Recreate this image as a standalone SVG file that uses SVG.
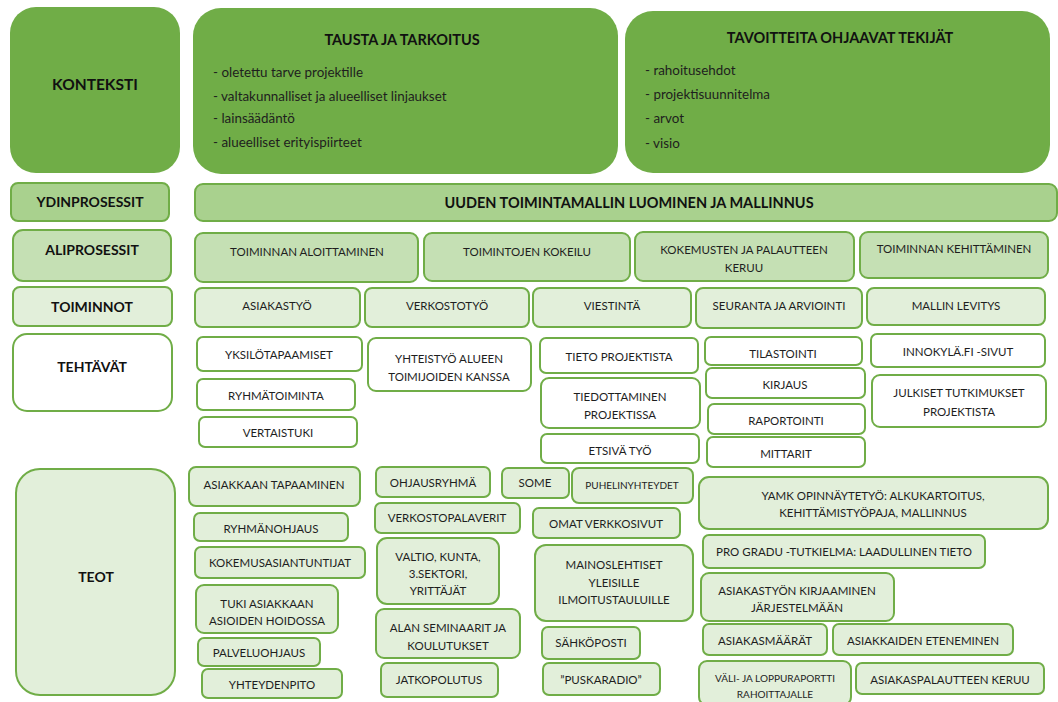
<svg xmlns="http://www.w3.org/2000/svg" width="1058" height="702" viewBox="0 0 1058 702">
  <style>
    rect { stroke: #70ad47; stroke-width: 2; }
    .dark { fill: #70ad47; stroke: none; }
    .mid { fill: #a9d18e; }
    .light { fill: #c5e0b4; }
    .pale { fill: #e2efda; }
    .white { fill: #ffffff; }
    text { font-family: Lato, "Liberation Sans", sans-serif; fill: #1e1e1e; }
    .t { font-size: 11.5px; text-anchor: middle; }
    .s { font-size: 10px; text-anchor: middle; }
    .h { font-size: 15.5px; font-weight: bold; text-anchor: middle; fill: #111; }
    .hb { font-size: 14px; font-weight: bold; text-anchor: middle; fill: #111; }
    .ht { font-size: 14.5px; font-weight: bold; text-anchor: middle; fill: #111; }
    .b { font-size: 13.4px; }
  </style>

  <!-- Context row -->
  <g id="konteksti">
    <rect class="dark" x="10" y="7" width="170" height="166" rx="26"/>
    <text class="h" x="95" y="90">KONTEKSTI</text>
  </g>
  <g id="tausta">
    <rect class="dark" x="193" y="8" width="425" height="166" rx="28"/>
    <text class="ht" x="402" y="45">TAUSTA JA TARKOITUS</text>
    <text class="b" x="213" y="77">- oletettu tarve projektille</text>
    <text class="b" x="213" y="101">- valtakunnalliset ja alueelliset linjaukset</text>
    <text class="b" x="213" y="123">- lainsäädäntö</text>
    <text class="b" x="213" y="147">- alueelliset erityispiirteet</text>
  </g>
  <g id="tavoitteet">
    <rect class="dark" x="625" y="11" width="425" height="162" rx="28"/>
    <text class="ht" x="840" y="43">TAVOITTEITA OHJAAVAT TEKIJÄT</text>
    <text class="b" x="645" y="75">- rahoitusehdot</text>
    <text class="b" x="645" y="99">- projektisuunnitelma</text>
    <text class="b" x="645" y="123">- arvot</text>
    <text class="b" x="645" y="148">- visio</text>
  </g>

  <!-- Core process row -->
  <g id="ydinprosessit">
    <rect class="mid" x="11" y="183" width="158" height="38" rx="7"/>
    <text class="hb" x="90" y="207">YDINPROSESSIT</text>
  </g>
  <g id="uuden-toimintamallin">
    <rect class="mid" x="195" y="184" width="862" height="37" rx="8"/>
    <text class="ht" x="629" y="208">UUDEN TOIMINTAMALLIN LUOMINEN JA MALLINNUS</text>
  </g>

  <!-- Sub-process row -->
  <g id="aliprosessit">
    <rect class="light" x="13" y="230" width="158" height="51" rx="10"/>
    <text class="hb" x="92" y="255">ALIPROSESSIT</text>
  </g>
  <g id="toiminnan-aloittaminen">
    <rect class="light" x="195" y="233" width="223" height="49" rx="8"/>
    <text class="t" x="307" y="256">TOIMINNAN ALOITTAMINEN</text>
  </g>
  <g id="toimintojen-kokeilu">
    <rect class="light" x="424" y="233" width="206" height="48" rx="8"/>
    <text class="t" x="527" y="256">TOIMINTOJEN KOKEILU</text>
  </g>
  <g id="kokemusten-keruu">
    <rect class="light" x="635" y="232" width="219" height="49" rx="8"/>
    <text class="t" x="744" y="254">KOKEMUSTEN JA PALAUTTEEN</text>
    <text class="t" x="744" y="272">KERUU</text>
  </g>
  <g id="toiminnan-kehittaminen">
    <rect class="light" x="860" y="232" width="188" height="46" rx="8"/>
    <text class="t" x="954" y="253">TOIMINNAN KEHITTÄMINEN</text>
  </g>

  <!-- Functions row -->
  <g id="toiminnot">
    <rect class="pale" x="13" y="287" width="159" height="39" rx="7"/>
    <text class="hb" x="92" y="312">TOIMINNOT</text>
  </g>
  <g id="asiakastyo">
    <rect class="pale" x="195" y="288" width="165" height="39" rx="7"/>
    <text class="t" x="277" y="310">ASIAKASTYÖ</text>
  </g>
  <g id="verkostotyo">
    <rect class="pale" x="365" y="288" width="164" height="39" rx="7"/>
    <text class="t" x="447" y="310">VERKOSTOTYÖ</text>
  </g>
  <g id="viestinta">
    <rect class="pale" x="533" y="288" width="158" height="39" rx="7"/>
    <text class="t" x="612" y="310">VIESTINTÄ</text>
  </g>
  <g id="seuranta">
    <rect class="pale" x="696" y="288" width="166" height="40" rx="7"/>
    <text class="t" x="779" y="310">SEURANTA JA ARVIOINTI</text>
  </g>
  <g id="mallin-levitys">
    <rect class="pale" x="867" y="288" width="178" height="37" rx="7"/>
    <text class="t" x="956" y="310">MALLIN LEVITYS</text>
  </g>

  <!-- Tasks -->
  <g id="tehtavat">
    <rect class="white" x="13" y="334" width="159" height="77" rx="14"/>
    <text class="hb" x="92" y="372">TEHTÄVÄT</text>
  </g>
  <g id="yksilotapaamiset">
    <rect class="white" x="197" y="337" width="165" height="34" rx="6"/>
    <text class="t" x="279" y="359">YKSILÖTAPAAMISET</text>
  </g>
  <g id="ryhmatoiminta">
    <rect class="white" x="197" y="379" width="158" height="31" rx="6"/>
    <text class="t" x="276" y="400">RYHMÄTOIMINTA</text>
  </g>
  <g id="vertaistuki">
    <rect class="white" x="199" y="417" width="158" height="30" rx="6"/>
    <text class="t" x="278" y="437">VERTAISTUKI</text>
  </g>
  <g id="yhteistyo">
    <rect class="white" x="368" y="338" width="163" height="53" rx="8"/>
    <text class="t" x="449" y="363">YHTEISTYÖ ALUEEN</text>
    <text class="t" x="449" y="381">TOIMIJOIDEN KANSSA</text>
  </g>
  <g id="tieto-projektista">
    <rect class="white" x="540" y="338" width="158" height="35" rx="6"/>
    <text class="t" x="619" y="361">TIETO PROJEKTISTA</text>
  </g>
  <g id="tiedottaminen">
    <rect class="white" x="541" y="378" width="159" height="50" rx="8"/>
    <text class="t" x="620" y="401">TIEDOTTAMINEN</text>
    <text class="t" x="620" y="419">PROJEKTISSA</text>
  </g>
  <g id="etsiva-tyo">
    <rect class="white" x="541" y="434" width="158" height="29" rx="6"/>
    <text class="t" x="620" y="455">ETSIVÄ TYÖ</text>
  </g>
  <g id="tilastointi">
    <rect class="white" x="705" y="337" width="157" height="28" rx="6"/>
    <text class="t" x="783" y="358">TILASTOINTI</text>
  </g>
  <g id="kirjaus">
    <rect class="white" x="706" y="368" width="159" height="30" rx="6"/>
    <text class="t" x="785" y="389">KIRJAUS</text>
  </g>
  <g id="raportointi">
    <rect class="white" x="708" y="404" width="157" height="30" rx="6"/>
    <text class="t" x="786" y="425">RAPORTOINTI</text>
  </g>
  <g id="mittarit">
    <rect class="white" x="707" y="437" width="158" height="30" rx="6"/>
    <text class="t" x="786" y="458">MITTARIT</text>
  </g>
  <g id="innokyla">
    <rect class="white" x="871" y="334" width="174" height="33" rx="6"/>
    <text class="t" x="958" y="356">INNOKYLÄ.FI -SIVUT</text>
  </g>
  <g id="julkiset-tutkimukset">
    <rect class="white" x="872" y="375" width="174" height="52" rx="8"/>
    <text class="t" x="959" y="397">JULKISET TUTKIMUKSET</text>
    <text class="t" x="959" y="416">PROJEKTISTA</text>
  </g>

  <!-- Actions -->
  <g id="teot">
    <rect class="pale" x="16" y="469" width="159" height="226" rx="24"/>
    <text class="hb" x="96" y="582">TEOT</text>
  </g>
  <g id="asiakkaan-tapaaminen">
    <rect class="pale" x="189" y="467" width="171" height="39" rx="7"/>
    <text class="t" x="274" y="489">ASIAKKAAN TAPAAMINEN</text>
  </g>
  <g id="ryhmanohjaus">
    <rect class="pale" x="194" y="513" width="154" height="28" rx="6"/>
    <text class="t" x="271" y="533">RYHMÄNOHJAUS</text>
  </g>
  <g id="kokemusasiantuntijat">
    <rect class="pale" x="195" y="547" width="170" height="31" rx="6"/>
    <text class="t" x="280" y="567">KOKEMUSASIANTUNTIJAT</text>
  </g>
  <g id="tuki-asiakkaan">
    <rect class="pale" x="196" y="585" width="142" height="48" rx="8"/>
    <text class="t" x="267" y="608">TUKI ASIAKKAAN</text>
    <text class="t" x="267" y="625">ASIOIDEN HOIDOSSA</text>
  </g>
  <g id="palveluohjaus">
    <rect class="pale" x="198" y="638" width="122" height="28" rx="6"/>
    <text class="t" x="259" y="657">PALVELUOHJAUS</text>
  </g>
  <g id="yhteydenpito">
    <rect class="pale" x="202" y="669" width="140" height="29" rx="6"/>
    <text class="t" x="272" y="689">YHTEYDENPITO</text>
  </g>
  <g id="ohjausryhma">
    <rect class="pale" x="376" y="467" width="114" height="30" rx="6"/>
    <text class="t" x="433" y="487">OHJAUSRYHMÄ</text>
  </g>
  <g id="some">
    <rect class="pale" x="502" y="468" width="67" height="30" rx="6"/>
    <text class="t" x="535" y="487">SOME</text>
  </g>
  <g id="puhelinyhteydet">
    <rect class="pale" x="572" y="468" width="121" height="35" rx="7"/>
    <text class="s" x="632" y="489">PUHELINYHTEYDET</text>
  </g>
  <g id="verkostopalaverit">
    <rect class="pale" x="375" y="503" width="145" height="30" rx="6"/>
    <text class="t" x="447" y="522">VERKOSTOPALAVERIT</text>
  </g>
  <g id="omat-verkkosivut">
    <rect class="pale" x="533" y="508" width="147" height="30" rx="6"/>
    <text class="t" x="606" y="528">OMAT VERKKOSIVUT</text>
  </g>
  <g id="valtio-kunta">
    <rect class="pale" x="377" y="538" width="122" height="66" rx="10"/>
    <text class="t" x="438" y="561">VALTIO, KUNTA,</text>
    <text class="t" x="438" y="578">3.SEKTORI,</text>
    <text class="t" x="438" y="595">YRITTÄJÄT</text>
  </g>
  <g id="mainoslehtiset">
    <rect class="pale" x="535" y="545" width="158" height="76" rx="11"/>
    <text class="t" x="614" y="569">MAINOSLEHTISET</text>
    <text class="t" x="614" y="587">YLEISILLE</text>
    <text class="t" x="614" y="604">ILMOITUSTAULUILLE</text>
  </g>
  <g id="alan-seminaarit">
    <rect class="pale" x="376" y="609" width="144" height="49" rx="8"/>
    <text class="t" x="448" y="632">ALAN SEMINAARIT JA</text>
    <text class="t" x="448" y="650">KOULUTUKSET</text>
  </g>
  <g id="sahkoposti">
    <rect class="pale" x="542" y="627" width="98" height="32" rx="6"/>
    <text class="t" x="591" y="647">SÄHKÖPOSTI</text>
  </g>
  <g id="jatkopolutus">
    <rect class="pale" x="381" y="663" width="117" height="34" rx="6"/>
    <text class="t" x="439" y="684">JATKOPOLUTUS</text>
  </g>
  <g id="puskaradio">
    <rect class="pale" x="543" y="663" width="117" height="32" rx="6"/>
    <text class="t" x="601" y="684">”PUSKARADIO”</text>
  </g>
  <g id="yamk">
    <rect class="pale" x="699" y="477" width="349" height="52" rx="10"/>
    <text class="t" x="873" y="500">YAMK OPINNÄYTETYÖ: ALKUKARTOITUS,</text>
    <text class="t" x="873" y="517">KEHITTÄMISTYÖPAJA, MALLINNUS</text>
  </g>
  <g id="pro-gradu">
    <rect class="pale" x="703" y="535" width="282" height="33" rx="6"/>
    <text class="t" x="844" y="556">PRO GRADU -TUTKIELMA: LAADULLINEN TIETO</text>
  </g>
  <g id="asiakastyon-kirjaaminen">
    <rect class="pale" x="701" y="573" width="193" height="48" rx="8"/>
    <text class="t" x="797" y="595">ASIAKASTYÖN KIRJAAMINEN</text>
    <text class="t" x="797" y="612">JÄRJESTELMÄÄN</text>
  </g>
  <g id="asiakasmaarat">
    <rect class="pale" x="703" y="624" width="124" height="31" rx="6"/>
    <text class="t" x="765" y="645">ASIAKASMÄÄRÄT</text>
  </g>
  <g id="asiakkaiden-eteneminen">
    <rect class="pale" x="833" y="624" width="180" height="31" rx="6"/>
    <text class="t" x="923" y="645">ASIAKKAIDEN ETENEMINEN</text>
  </g>
  <g id="raportti-rahoittajalle">
    <rect class="pale" x="699" y="661" width="152" height="44" rx="8"/>
    <text class="s" x="775" y="682">VÄLI- JA LOPPURAPORTTI</text>
    <text class="s" x="775" y="698">RAHOITTAJALLE</text>
  </g>
  <g id="asiakaspalautteen-keruu">
    <rect class="pale" x="856" y="663" width="188" height="31" rx="6"/>
    <text class="t" x="950" y="684">ASIAKASPALAUTTEEN KERUU</text>
  </g>
</svg>
